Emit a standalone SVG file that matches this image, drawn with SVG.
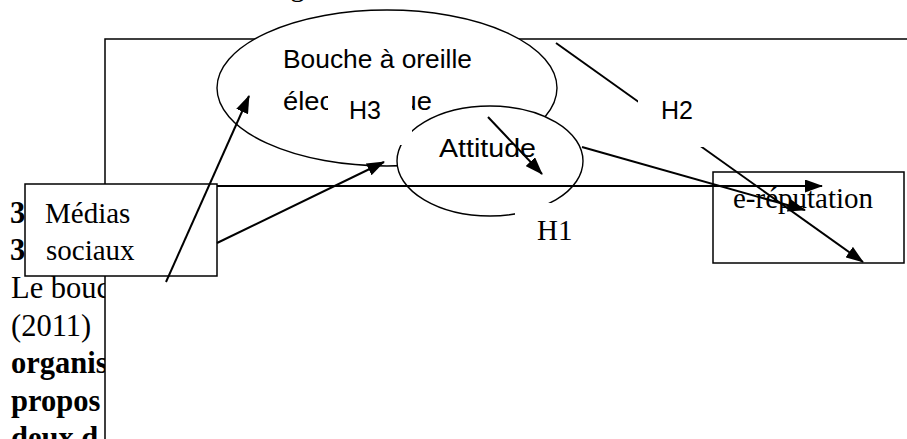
<svg xmlns="http://www.w3.org/2000/svg" width="907" height="439" viewBox="0 0 907 439">
  <style>
    .page { font-family: "Liberation Serif", "Times New Roman", serif; font-size: 30.5px; fill: #000; }
    .bold { font-weight: bold; }
    .serif { font-family: "Liberation Serif", "Times New Roman", serif; font-size: 29px; fill: #000; }
    .sans { font-family: "Liberation Sans", Arial, sans-serif; font-size: 25px; fill: #000; }
    .shape { fill: #fff; stroke: #000; stroke-width: 1.5; }
    .oval { fill: #fff; stroke: #000; stroke-width: 1.4; }
    .mask { fill: #fff; stroke: none; }
    .link { fill: none; stroke: #000; stroke-width: 2; marker-end: url(#head); }
  </style>
  <defs>
    <marker id="head" markerUnits="userSpaceOnUse" markerWidth="18" markerHeight="13" refX="17" refY="6.5" orient="auto">
      <path d="M0,0 L18,6.5 L0,13 z" fill="#000"/>
    </marker>
  </defs>

  <rect width="907" height="439" fill="#fff"/>

  <!-- page text behind the figure -->
  <g id="page-text" class="page">
    <text x="266" y="-4" font-size="29">Figure 1 : Modèle de la recherche</text>
    <text x="10" y="223" class="bold">3</text>
    <text x="10" y="260" class="bold">3</text>
    <text x="11" y="298">Le bouc</text>
    <text x="11" y="336">(2011)</text>
    <text x="11" y="373" class="bold">organis</text>
    <text x="11" y="411" class="bold">propos</text>
    <text x="11" y="448" class="bold">deux d</text>
  </g>

  <!-- figure frame -->
  <rect id="frame" class="shape" x="105" y="39" width="820" height="420"/>

  <g id="node-bouche">
    <ellipse class="oval" cx="387" cy="88" rx="170" ry="78"/>
    <text class="sans" x="283" y="68" textLength="189" lengthAdjust="spacingAndGlyphs">Bouche à oreille</text>
    <text class="sans" x="283" y="110" textLength="149" lengthAdjust="spacingAndGlyphs">électronique</text>
  </g>

  <g id="node-attitude">
    <ellipse class="oval" cx="490" cy="161" rx="93" ry="55"/>
    <text class="sans" x="439" y="157" textLength="97" lengthAdjust="spacingAndGlyphs">Attitude</text>
  </g>

  <g id="node-medias">
    <rect class="shape" x="25" y="184" width="192" height="92"/>
    <text class="serif" x="45" y="223">Médias</text>
    <text class="serif" x="46" y="260">sociaux</text>
  </g>

  <g id="node-ereputation">
    <rect class="shape" x="713" y="172" width="191" height="91"/>
    <text class="serif" x="733" y="208">e-réputation</text>
  </g>

  <g id="connectors">
    <line class="link" x1="166" y1="282" x2="249" y2="96"/>
    <line class="link" x1="217" y1="243" x2="384" y2="162"/>
    <line class="link" x1="217" y1="186" x2="822" y2="186"/>
    <line class="link" x1="488" y1="117" x2="542" y2="174"/>
    <line class="link" x1="582" y1="147" x2="805" y2="210"/>
    <line class="link" x1="556" y1="43" x2="863" y2="262"/>
  </g>

  <!-- hypothesis labels on white boxes -->
  <g id="label-h3">
    <rect class="mask" x="328" y="90" width="84" height="55"/>
    <text class="sans" x="349" y="119" font-size="26">H3</text>
  </g>
  <g id="label-h2">
    <rect class="mask" x="638" y="88" width="70" height="59"/>
    <text class="sans" x="661" y="119" font-size="26">H2</text>
  </g>
  <g id="label-h1">
    <rect class="mask" x="515" y="203" width="75" height="45"/>
    <text class="serif" x="537" y="240" font-size="27">H1</text>
  </g>
</svg>
